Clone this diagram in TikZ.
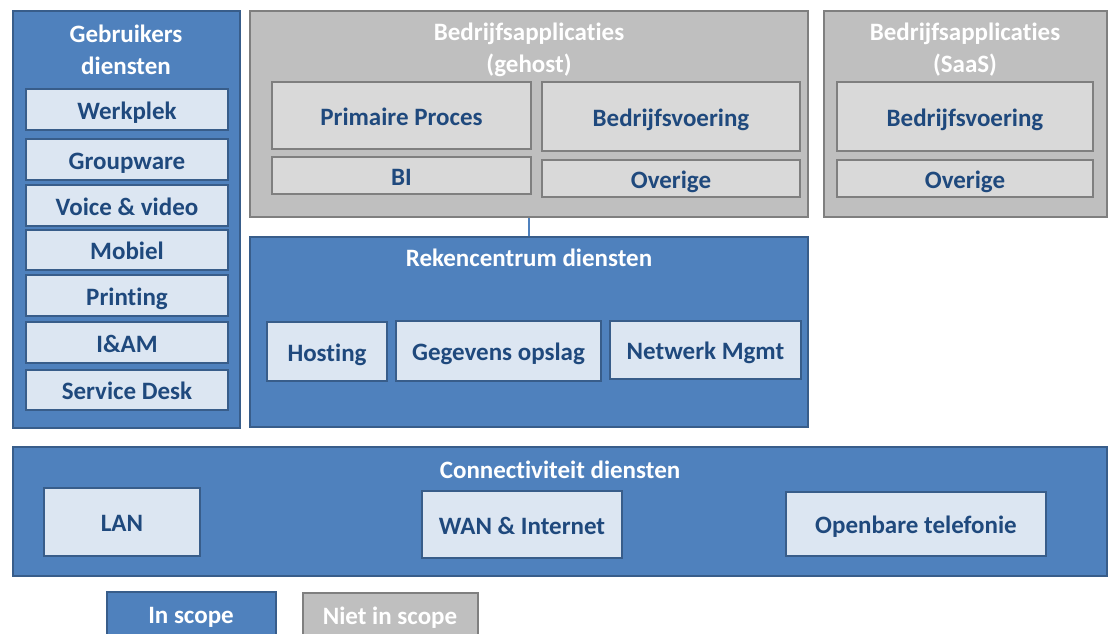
\documentclass[tikz,border=0pt]{standalone}
\usepackage{fontspec}
\setmainfont[Ligatures=NoCommon]{Carlito}
\definecolor{bfill}{HTML}{4F81BD}
\definecolor{bline}{HTML}{385D8A}
\definecolor{lfill}{HTML}{DCE6F2}
\definecolor{dtext}{HTML}{1F497D}
\definecolor{gfill}{HTML}{BFBFBF}
\definecolor{gline}{HTML}{7F7F7F}
\definecolor{lgfill}{HTML}{D9D9D9}
\tikzset{
  outerblue/.style={draw=bline, fill=bfill, line width=2.5pt, inner sep=0pt},
  outergray/.style={draw=gline, fill=gfill, line width=2.5pt, inner sep=0pt},
  itemblue/.style={draw=bline, fill=lfill, line width=2.5pt, text=dtext, font=\fontsize{25}{30}\selectfont\bfseries, inner sep=0pt, text height=19.5pt, text depth=0pt},
  itemgray/.style={draw=gline, fill=lgfill, line width=2.5pt, text=dtext, font=\fontsize{25}{30}\selectfont\bfseries, inner sep=0pt, text height=19.5pt, text depth=0pt},
  titletext/.style={text=white, font=\fontsize{25}{32}\selectfont\bfseries, align=center, inner sep=0pt},
  conn/.style={draw=bfill, line width=2.5pt},
}
\newcommand{\bx}[7]{% style, name, x1, y1, x2, y2, text
  \node[#1, minimum width={(#5)-(#3)}, minimum height={(#6)-(#4)}] (#2) at ({((#3)+(#5))/2},{((#4)+(#6))/2}) {#7};}
\begin{document}
\begin{tikzpicture}[x=1pt,y=-1pt]
\useasboundingbox (0,0) rectangle (1109,634);
\clip (0,0) rectangle (1109,634);
% Gebruikers diensten
\bx{outerblue}{geb}{13}{11}{240}{428}{}
\node[titletext] (gebt) at (126,50) {Gebruikers\\diensten};
\bx{itemblue}{werkplek}{26}{89}{228}{130}{Werkplek}
\bx{itemblue}{groupware}{26}{139}{228}{180}{Groupware}
\bx{itemblue}{voice}{26}{185}{228}{226}{Voice \& video}
\bx{itemblue}{mobiel}{26}{230}{228}{270}{Mobiel}
\bx{itemblue}{printing}{26}{275}{228}{316}{Printing}
\bx{itemblue}{iam}{26}{322}{228}{363}{I\&AM}
\bx{itemblue}{sdesk}{26}{370}{228}{410}{Service Desk}
% Bedrijfsapplicaties gehost
\bx{outergray}{gehost}{250}{11}{808}{217}{}
\node[titletext] (gehostt) at (529,50) {Bedrijfsapplicaties\\(gehost)};
\bx{itemgray}{primair}{272}{82}{531}{149}{Primaire Proces}
\bx{itemgray}{bedrijf}{542}{82}{800}{151}{Bedrijfsvoering}
\bx{itemgray}{bi}{272}{157}{531}{194}{BI}
\bx{itemgray}{overige}{542}{160}{800}{197}{Overige}
% Bedrijfsapplicaties SaaS
\bx{outergray}{saas}{824}{11}{1107}{217}{}
\node[titletext] (saast) at (965,50) {Bedrijfsapplicaties\\(SaaS)};
\bx{itemgray}{sbedrijf}{837}{82}{1093}{151}{Bedrijfsvoering}
\bx{itemgray}{soverige}{837}{160}{1093}{197}{Overige}
% Rekencentrum
\bx{outerblue}{rek}{250}{237}{808}{427}{}
\node[titletext] (rekt) at (529,258) {Rekencentrum diensten};
\bx{itemblue}{hosting}{267}{322}{387}{381}{Hosting}
\bx{itemblue}{opslag}{396}{321}{601}{381}{Gegevens opslag}
\bx{itemblue}{netwerk}{610}{321}{801}{379}{Netwerk Mgmt}
\draw[conn] (gehost.south) -- (rek.north);
% Connectiviteit
\bx{outerblue}{con}{13}{447}{1107}{576}{}
\node[titletext] (cont) at (560,470) {Connectiviteit diensten};
\bx{itemblue}{lan}{44}{488}{200}{556}{LAN}
\bx{itemblue}{wan}{422}{491}{622}{558}{WAN \& Internet}
\bx{itemblue}{tel}{786}{492}{1046}{556}{Openbare telefonie}
% Legend
\bx{outerblue}{inscope}{107}{592}{276}{645}{}
\node[titletext] (inscopet) at (191,617) {In scope};
\bx{outergray}{nietscope}{303}{593}{478}{645}{}
\node[titletext] (nietscopet) at (390,618) {Niet in scope};
\end{tikzpicture}
\end{document}
